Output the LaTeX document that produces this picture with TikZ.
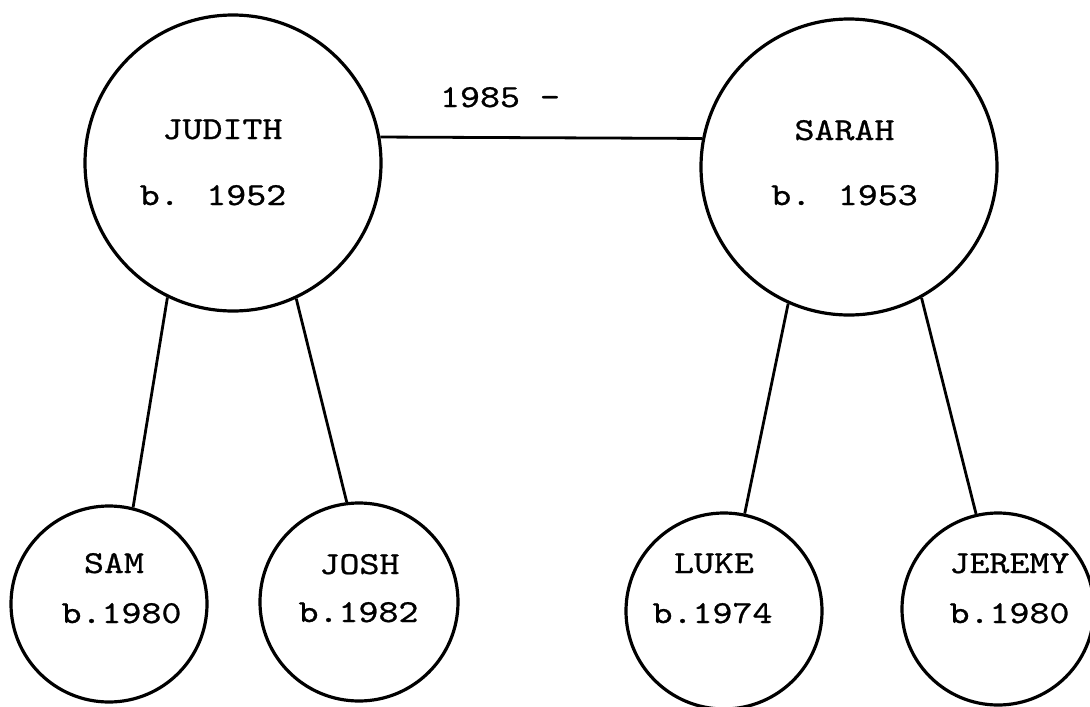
\documentclass[tikz,border=0pt]{standalone}
\usepackage{fontspec}
\newfontfamily\typewriter{lmmono10-regular.otf}[FakeStretch=1.19,FakeBold=0.8]
\begin{document}
\begin{tikzpicture}[x=0.75pt,y=-0.75pt,
  person/.style={circle,draw,line width=2.4pt,inner sep=0pt},
  link/.style={line width=2.1pt},
  tw/.style={font=\typewriter\fontsize{24}{29}\selectfont,inner sep=0pt,anchor=base}]
\useasboundingbox (0,0) rectangle (1090,707);

% parents
\node[person,minimum size=222pt] (judith) at (233,163) {};
\node[person,minimum size=222pt] (sarah) at (849,167) {};

% children
\node[person,minimum size=147pt] (sam) at (109,604) {};
\node[person,minimum size=148.5pt] (josh) at (359,602) {};
\node[person,minimum size=147pt] (luke) at (724,611) {};
\node[person,minimum size=144pt] (jeremy) at (998,609) {};

% names and birth years
\node[tw] (judithname) at (222.5,139) {JUDITH};
\node[tw] (judithyear) at (213,205) {b. 1952};
\node[tw] (sarahname) at (844.5,140) {SARAH};
\node[tw] (sarahyear) at (844.5,205) {b. 1953};
\node[tw] (samname) at (114,573) {SAM};
\node[tw] (samyear) at (121.5,623) {b.1980};
\node[tw] (joshname) at (359.5,574) {JOSH};
\node[tw] (joshyear) at (358.5,622) {b.1982};
\node[tw] (lukename) at (714,573) {LUKE};
\node[tw] (lukeyear) at (712.5,623) {b.1974};
\node[tw] (jeremyname) at (1009.5,573) {JEREMY};
\node[tw] (jeremyyear) at (1009.5,623) {b.1980};

% partnership
\draw[link] (judith.10) -- (sarah.169);
\node[tw] (since) at (500,107) {1985 -};

% parent-child lines
\draw[link] (judith.244.6) -- (sam.76.4);
\draw[link] (judith.295.4) -- (josh.97.4);
\draw[link] (sarah.246.2) -- (luke.78.5);
\draw[link] (sarah.299.1) -- (jeremy.103.5);
\end{tikzpicture}
\end{document}
